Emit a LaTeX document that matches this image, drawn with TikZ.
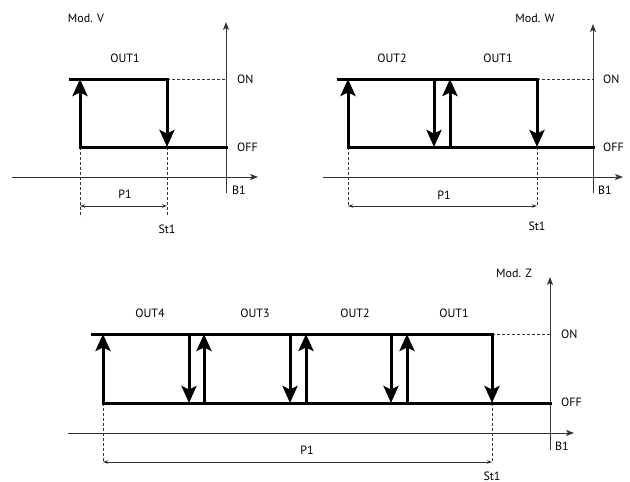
\documentclass[tikz,border=0pt]{standalone}
\usepackage{fontspec}
\setmainfont{PT Sans}
\usetikzlibrary{arrows.meta}
\begin{document}
\begin{tikzpicture}[x=1pt,y=-1pt,
  thickline/.style={line width=3pt,black,line cap=rect},
  uparrow/.style={line width=3pt,black,-{Stealth[length=17pt,width=15pt,inset=3.5pt]}},
  axis/.style={line width=1pt,black!80,-{Stealth[length=8pt,width=6pt,inset=2pt]}},
  dashline/.style={line width=0.8pt,black!80,dash pattern=on 3pt off 2pt},
  dim/.style={line width=0.7pt,black!80,{Stealth[length=5pt,width=3.5pt]}-{Stealth[length=5pt,width=3.5pt]}},
  lbl/.style={font=\fontsize{12}{14}\selectfont,inner sep=0pt,anchor=center},
  lblw/.style={lbl,anchor=west}]
\useasboundingbox (0,0) rectangle (630,482);
% ================= Panel V =================
\coordinate (vYb) at (226,193); \coordinate (vYt) at (226,22);
\coordinate (vXl) at (12,177); \coordinate (vXr) at (258,177);
\draw[axis] (vYb) -- (vYt);
\draw[axis] (vXl) -- (vXr);
\coordinate (vOnL) at (70,79); \coordinate (vOnR) at (167,79); \coordinate (vOnA) at (226,79);
\coordinate (vOffL) at (80,147); \coordinate (vOffR) at (226,147);
\coordinate (vUp) at (80,79); \coordinate (vDn) at (167,147);
\coordinate (vD1) at (80,217); \coordinate (vD2) at (167,217);
\draw[dashline] (vOnR) -- (vOnA);
\draw[dashline] (vOffL) -- (vD1);
\draw[dashline] (vDn) -- (vD2);
\draw[thickline] (vOnL) -- (vOnR);
\draw[thickline] (vOffL) -- (vOffR);
\draw[uparrow] (vOffL) -- (vUp);
\draw[uparrow] (vOnR) -- (vDn);
\coordinate (vP1a) at (80,206); \coordinate (vP1b) at (167,206);
\draw[dim] (vP1a) -- (vP1b);
\node[lbl] (vMod) at (86,18) {Mod. V};
\node[lbl] (vOut1) at (125,58) {OUT1};
\node[lblw] (vOn) at (237,79) {ON};
\node[lblw] (vOff) at (237,147) {OFF};
\node[lblw] (vB1) at (232,190) {B1};
\node[lbl] (vP1) at (125,194) {P1};
\node[lbl] (vSt1) at (167,229) {St1};
% ================= Panel W =================
\coordinate (wYb) at (593,193); \coordinate (wYt) at (593,24);
\coordinate (wXl) at (323,177); \coordinate (wXr) at (623,177);
\draw[axis] (wYb) -- (wYt);
\draw[axis] (wXl) -- (wXr);
\coordinate (wOnL) at (338,79); \coordinate (wOnR) at (537,79); \coordinate (wOnA) at (593,79);
\coordinate (wOffL) at (348,147); \coordinate (wOffR) at (593,147);
\coordinate (wU1b) at (348,147); \coordinate (wU1t) at (348,79);
\coordinate (wU2b) at (450,147); \coordinate (wU2t) at (450,79);
\coordinate (wD1t) at (434,79); \coordinate (wD1b) at (434,147);
\coordinate (wD2t) at (537,79); \coordinate (wD2b) at (537,147);
\coordinate (wE1) at (348,207); \coordinate (wE2) at (537,207);
\draw[dashline] (wOnR) -- (wOnA);
\draw[dashline] (wOffL) -- (wE1);
\draw[dashline] (wD2b) -- (wE2);
\draw[thickline] (wOnL) -- (wOnR);
\draw[thickline] (wOffL) -- (wOffR);
\draw[uparrow] (wU1b) -- (wU1t);
\draw[uparrow] (wU2b) -- (wU2t);
\draw[uparrow] (wD1t) -- (wD1b);
\draw[uparrow] (wD2t) -- (wD2b);
\coordinate (wP1a) at (348,206); \coordinate (wP1b) at (537,206);
\draw[dim] (wP1a) -- (wP1b);
\node[lbl] (wMod) at (535,18) {Mod. W};
\node[lbl] (wOut2) at (392,58) {OUT2};
\node[lbl] (wOut1) at (498,58) {OUT1};
\node[lblw] (wOn) at (603,79) {ON};
\node[lblw] (wOff) at (603,147) {OFF};
\node[lblw] (wB1) at (598,190) {B1};
\node[lbl] (wP1) at (444,195) {P1};
\node[lbl] (wSt1) at (537,226) {St1};
% ================= Panel Z =================
\coordinate (zYb) at (550,450); \coordinate (zYt) at (550,277);
\coordinate (zXl) at (68,433); \coordinate (zXr) at (574,433);
\draw[axis] (zYb) -- (zYt);
\draw[axis] (zXl) -- (zXr);
\coordinate (zOnL) at (92,334); \coordinate (zOnR) at (492,334); \coordinate (zOnA) at (550,334);
\coordinate (zOffL) at (103,403); \coordinate (zOffR) at (550,403);
\coordinate (zU1b) at (103,403); \coordinate (zU1t) at (103,334);
\coordinate (zU2b) at (204,403); \coordinate (zU2t) at (204,334);
\coordinate (zU3b) at (306,403); \coordinate (zU3t) at (306,334);
\coordinate (zU4b) at (407,403); \coordinate (zU4t) at (407,334);
\coordinate (zD1t) at (189,334); \coordinate (zD1b) at (189,403);
\coordinate (zD2t) at (290,334); \coordinate (zD2b) at (290,403);
\coordinate (zD3t) at (391,334); \coordinate (zD3b) at (391,403);
\coordinate (zD4t) at (492,334); \coordinate (zD4b) at (492,403);
\coordinate (zE1) at (103,463); \coordinate (zE2) at (492,463);
\draw[dashline] (zOnR) -- (zOnA);
\draw[dashline] (zOffL) -- (zE1);
\draw[dashline] (zD4b) -- (zE2);
\draw[thickline] (zOnL) -- (zOnR);
\draw[thickline] (zOffL) -- (zOffR);
\draw[uparrow] (zU1b) -- (zU1t);
\draw[uparrow] (zU2b) -- (zU2t);
\draw[uparrow] (zU3b) -- (zU3t);
\draw[uparrow] (zU4b) -- (zU4t);
\draw[uparrow] (zD1t) -- (zD1b);
\draw[uparrow] (zD2t) -- (zD2b);
\draw[uparrow] (zD3t) -- (zD3b);
\draw[uparrow] (zD4t) -- (zD4b);
\coordinate (zP1a) at (103,462); \coordinate (zP1b) at (492,462);
\draw[dim] (zP1a) -- (zP1b);
\node[lbl] (zMod) at (514,273) {Mod. Z};
\node[lbl] (zOut4) at (150,313) {OUT4};
\node[lbl] (zOut3) at (255,313) {OUT3};
\node[lbl] (zOut2) at (355,313) {OUT2};
\node[lbl] (zOut1) at (454,313) {OUT1};
\node[lblw] (zOn) at (561,334) {ON};
\node[lblw] (zOff) at (561,402) {OFF};
\node[lblw] (zB1) at (555,446) {B1};
\node[lbl] (zP1) at (307,450) {P1};
\node[lbl] (zSt1) at (492,476) {St1};
\end{tikzpicture}
\end{document}
